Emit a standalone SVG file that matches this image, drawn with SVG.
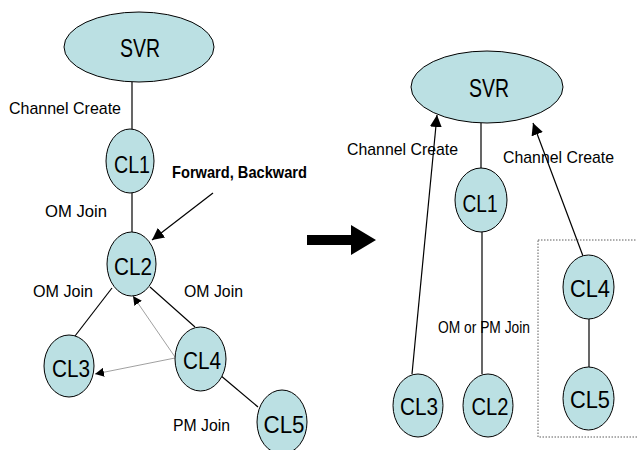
<svg xmlns="http://www.w3.org/2000/svg" width="637" height="450" viewBox="0 0 637 450">
  <defs>
    <style>
      .node { fill: #bbe0e3; stroke: #000; stroke-width: 1; }
      .edge { stroke: #000; stroke-width: 1.2; fill: none; }
      .thin { stroke: #888; stroke-width: 0.8; fill: none; }
      .lbl { font-family: "Liberation Sans", Arial, sans-serif; font-size: 24px; fill: #000; text-anchor: middle; }
      .big { font-size: 26px; }
      .cap { font-family: "Liberation Sans", Arial, sans-serif; font-size: 17px; fill: #000; }
      .bold { font-weight: bold; }
    </style>
    <marker id="head" viewBox="0 0 10 10" refX="10" refY="5" markerWidth="9" markerHeight="9" markerUnits="userSpaceOnUse" orient="auto">
      <path d="M0,0 L10,5 L0,10 z" fill="#000"/>
    </marker>
    <marker id="headLg" viewBox="0 0 10 10" refX="10" refY="5" markerWidth="12" markerHeight="12" markerUnits="userSpaceOnUse" orient="auto">
      <path d="M0,0 L10,5 L0,10 z" fill="#000"/>
    </marker>
  </defs>

  <!-- connectors -->
  <g id="connectors">
    <!-- left tree -->
    <line class="edge" x1="132" y1="82" x2="132" y2="129"/>
    <line class="edge" x1="132" y1="193" x2="132" y2="232"/>
    <line class="edge" x1="112" y1="288" x2="75" y2="336"/>
    <line class="edge" x1="150" y1="287" x2="195" y2="327"/>
    <line class="edge" x1="220" y1="375" x2="258" y2="407"/>
    <line class="edge" x1="213" y1="193" x2="152" y2="240" marker-end="url(#headLg)"/>
    <line class="thin" x1="175" y1="357" x2="133" y2="296" marker-end="url(#head)"/>
    <line class="thin" x1="175" y1="358" x2="95" y2="374" marker-end="url(#head)"/>
    <!-- transition arrow -->
    <path d="M307,235 H351 V225 L376,240 L351,255 V245 H307 z" fill="#000"/>
    <!-- right tree -->
    <line class="edge" x1="481" y1="123" x2="481" y2="168"/>
    <line class="edge" x1="482" y1="232" x2="482" y2="374"/>
    <line class="edge" x1="412" y1="374" x2="437" y2="115" marker-end="url(#headLg)"/>
    <line class="edge" x1="583" y1="256" x2="533" y2="123" marker-end="url(#headLg)"/>
    <line class="edge" x1="589" y1="319" x2="589" y2="367"/>
    <!-- grouping box -->
    <rect x="538" y="240" width="110" height="197" fill="none" stroke="#333" stroke-width="0.8" stroke-dasharray="1.5,1.5"/>
  </g>

  <!-- left side nodes -->
  <g id="svr-a">
    <ellipse class="node" cx="139" cy="47" rx="75" ry="35"/>
    <text class="lbl big" x="140" y="57" textLength="40" lengthAdjust="spacingAndGlyphs">SVR</text>
  </g>
  <g id="cl1-a">
    <ellipse class="node" cx="130" cy="161" rx="24" ry="32"/>
    <text class="lbl" x="132" y="173" textLength="36" lengthAdjust="spacingAndGlyphs">CL1</text>
  </g>
  <g id="cl2-a">
    <ellipse class="node" cx="131.5" cy="264" rx="24.5" ry="32"/>
    <text class="lbl" x="133" y="275" textLength="38" lengthAdjust="spacingAndGlyphs">CL2</text>
  </g>
  <g id="cl3-a">
    <ellipse class="node" cx="69" cy="366" rx="25" ry="31"/>
    <text class="lbl" x="71" y="377" textLength="38" lengthAdjust="spacingAndGlyphs">CL3</text>
  </g>
  <g id="cl4-a">
    <ellipse class="node" cx="200.5" cy="359" rx="25.5" ry="32"/>
    <text class="lbl" x="202" y="369" textLength="38" lengthAdjust="spacingAndGlyphs">CL4</text>
  </g>
  <g id="cl5-a">
    <ellipse class="node" cx="282" cy="422" rx="25" ry="32"/>
    <text class="lbl" x="284" y="433" textLength="41" lengthAdjust="spacingAndGlyphs">CL5</text>
  </g>

  <!-- left side edge labels -->
  <g id="labels-a">
    <text class="cap" x="9" y="114" textLength="112" lengthAdjust="spacingAndGlyphs">Channel Create</text>
    <text class="cap" x="45" y="217" textLength="62" lengthAdjust="spacingAndGlyphs">OM Join</text>
    <text class="cap bold" x="172" y="178" textLength="135" lengthAdjust="spacingAndGlyphs">Forward, Backward</text>
    <text class="cap" x="33" y="297" textLength="60" lengthAdjust="spacingAndGlyphs">OM Join</text>
    <text class="cap" x="184" y="297" textLength="59" lengthAdjust="spacingAndGlyphs">OM Join</text>
    <text class="cap" x="173" y="431" textLength="57" lengthAdjust="spacingAndGlyphs">PM Join</text>
  </g>

  <!-- right side nodes -->
  <g id="svr-b">
    <ellipse class="node" cx="487" cy="87" rx="76" ry="36"/>
    <text class="lbl big" x="489" y="97" textLength="40" lengthAdjust="spacingAndGlyphs">SVR</text>
  </g>
  <g id="cl1-b">
    <ellipse class="node" cx="481" cy="200" rx="26" ry="32"/>
    <text class="lbl" x="480" y="212" textLength="35" lengthAdjust="spacingAndGlyphs">CL1</text>
  </g>
  <g id="cl3-b">
    <ellipse class="node" cx="418" cy="405.5" rx="25" ry="31.5"/>
    <text class="lbl" x="419" y="415" textLength="38" lengthAdjust="spacingAndGlyphs">CL3</text>
  </g>
  <g id="cl2-b">
    <ellipse class="node" cx="488" cy="405.5" rx="25" ry="31.5"/>
    <text class="lbl" x="490" y="415" textLength="37" lengthAdjust="spacingAndGlyphs">CL2</text>
  </g>
  <g id="cl4-b">
    <ellipse class="node" cx="588.5" cy="287" rx="25.5" ry="32"/>
    <text class="lbl" x="590" y="297" textLength="40" lengthAdjust="spacingAndGlyphs">CL4</text>
  </g>
  <g id="cl5-b">
    <ellipse class="node" cx="588.5" cy="398.5" rx="25.5" ry="31.5"/>
    <text class="lbl" x="590" y="408" textLength="40" lengthAdjust="spacingAndGlyphs">CL5</text>
  </g>

  <!-- right side edge labels -->
  <g id="labels-b">
    <text class="cap" x="347" y="155" textLength="111" lengthAdjust="spacingAndGlyphs">Channel Create</text>
    <text class="cap" x="503" y="163" textLength="111" lengthAdjust="spacingAndGlyphs">Channel Create</text>
    <text class="cap" x="438" y="333" textLength="92" lengthAdjust="spacingAndGlyphs">OM or PM Join</text>
  </g>
</svg>
